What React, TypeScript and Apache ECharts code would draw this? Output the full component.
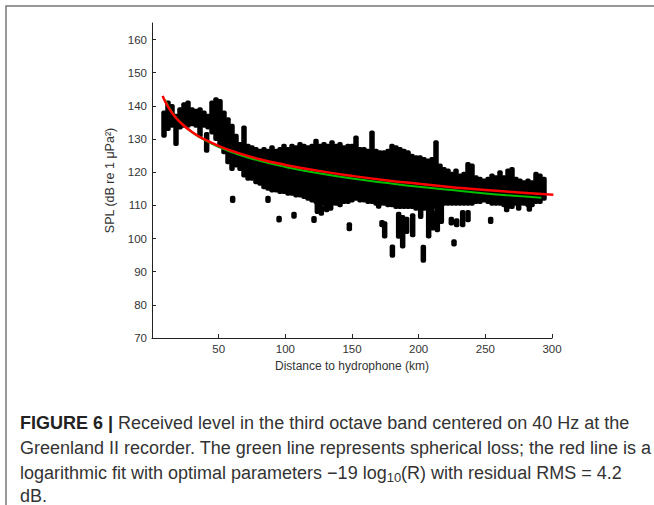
import React, { useEffect, useRef } from 'react';
import * as echarts from 'echarts';

// Dense cloud of measurements, summarised as vertical columns (km, low dB, high dB)
const cloudKm = [9, 12, 15, 18, 21, 24, 27, 30, 33, 36, 39, 42, 45, 48, 51, 54, 57, 60, 63, 66, 69, 72, 75, 78, 81, 84, 87, 90, 93, 96, 99, 102, 105, 108, 111, 114, 117, 120, 123, 126, 129, 132, 135, 138, 141, 144, 147, 150, 153, 156, 159, 162, 165, 168, 171, 174, 177, 180, 183, 186, 189, 192, 195, 198, 201, 204, 207, 210, 213, 216, 219, 222, 225, 228, 231, 234, 237, 240, 243, 246, 249, 252, 255, 258, 261, 264, 267, 270, 273, 276, 279, 282, 285, 288, 291, 294];
const cloudLow = [131, 133, 134, 128.5, 133.5, 134, 134, 134.5, 134, 131, 134, 133.5, 132, 130, 128, 126, 123, 121, 122, 121, 119, 118, 118, 117, 116.5, 115.5, 115, 114.5, 114.5, 114, 114, 113.5, 113.5, 113, 113, 112.5, 112, 111.5, 111, 110.5, 110.5, 110, 110.5, 110.5, 110, 111, 111, 111.5, 112, 111.5, 111.5, 111, 111, 110.5, 110.5, 110.5, 110, 110, 109.5, 109.5, 109.5, 109.5, 109.5, 109, 109, 109, 109, 109, 109.5, 110, 110.5, 110.5, 110.5, 110.5, 110.5, 110.5, 110.5, 110.5, 111, 111, 111.5, 111, 110.5, 110.5, 110.5, 110, 109.5, 109.5, 110.5, 110.5, 110.5, 110, 110, 111, 111, 112];
const cloudHigh = [138, 141, 140, 137, 139, 140.5, 141, 139, 138.5, 139, 138, 137, 141, 142, 141.5, 138, 136, 134, 131, 128.5, 133.5, 128, 127.5, 127, 126.5, 127, 126.5, 127.5, 126.5, 127, 128, 127, 128, 127.5, 128.5, 128, 127.5, 128, 129.5, 128, 128.5, 128, 129, 128, 128.5, 127.5, 128, 128, 130.5, 127, 127, 126.5, 132, 126.5, 126, 126, 126.5, 128, 127.5, 127, 126.5, 126, 125, 124.5, 124.5, 124, 123.5, 124, 129, 122, 121, 120.5, 119.5, 120.5, 119, 119.5, 122.5, 122, 118.5, 118, 117.5, 118, 119, 118.5, 120, 118.5, 120.5, 121, 118, 117.5, 117, 117.5, 117, 119.5, 119, 118];

// Isolated groups of points below / beside the cloud
const outlierKm = [41, 60.5, 87, 95.3, 106.5, 121.5, 124, 127, 131, 134, 148, 170, 172.5, 174.5, 180.3, 185, 188, 191, 195.5, 201.5, 203.5, 207.5, 210.5, 214, 217, 224.5, 226.5, 228.5, 233, 237, 254, 266, 275, 283];
const outlierLow = [126.5, 111.3, 111.3, 105.4, 106.6, 105.3, 108, 107.5, 108.5, 109, 102.8, 109.6, 104, 100.6, 94.8, 100.5, 97.6, 102, 101, 106.5, 93.3, 100.6, 103, 102.5, 105, 104.5, 98.2, 104, 104, 105.5, 105, 108.5, 109, 108.7];
const outlierHigh = [131.5, 112.3, 112.3, 106.3, 107.5, 106.2, 110.5, 109.5, 110, 110.5, 104.3, 111, 105, 104.6, 97.6, 107.5, 106.5, 106, 107, 111, 97.5, 111, 108, 111, 110, 106, 99.2, 105.5, 108, 108, 106, 110.6, 110.5, 110];

// Logarithmic fit (red) and spherical loss (green)
const redKm = [8, 10, 15, 20, 30, 40, 50, 60, 80, 100, 125, 150, 175, 200, 225, 250, 275, 301];
const redDb = [143.0, 141.2, 137.9, 135.5, 132.1, 129.8, 127.9, 126.4, 124.0, 122.2, 120.4, 118.9, 117.6, 116.5, 115.5, 114.6, 113.9, 113.2];
const greenKm = [9.7, 15, 20, 30, 40, 50, 60, 80, 100, 125, 150, 175, 200, 225, 250, 275, 292];
const greenDb = [141.9, 138.1, 135.6, 132.1, 129.6, 127.6, 126.0, 123.5, 121.6, 119.7, 118.1, 116.8, 115.6, 114.6, 113.6, 112.8, 112.3];

const xMin = 0;
const xMax = 300;
const xStep = 50;
const yMin = 70;
const yMax = 165;
const yStep = 10;

const xTitle = 'Distance to hydrophone (km)';
const yTitle = 'SPL (dB re 1 μPa²)';

export default function App() {
  const ref = useRef<HTMLDivElement>(null);

  useEffect(() => {
    document.body.style.margin = '0';
    const chart = echarts.init(ref.current!, null, { renderer: 'svg' });

    const segments = cloudKm
      .map((k, i) => [k, cloudLow[i], cloudHigh[i]])
      .concat(outlierKm.map((k, i) => [k, outlierLow[i], outlierHigh[i]]));

    const axisColor = '#222';
    const labelStyle = { color: '#333', fontSize: 11.5, fontFamily: 'Liberation Sans, Arial, sans-serif' };
    const capFont = 'Liberation Sans, Arial, sans-serif';
    const t = { fontSize: 18, fontFamily: capFont, fill: '#333', lineHeight: 22 };
    const b = { fontSize: 18, fontFamily: capFont, fill: '#222', fontWeight: 'bold', lineHeight: 22 };
    const sub = { fontSize: 13, fontFamily: capFont, fill: '#333', lineHeight: 13, verticalAlign: 'bottom' };

    chart.setOption({
      animation: false,
      backgroundColor: '#fff',
      grid: { left: 152, right: 102, top: 23, bottom: 167, containLabel: false },
      xAxis: {
        type: 'value',
        min: xMin,
        max: xMax,
        interval: xStep,
        name: xTitle,
        nameLocation: 'middle',
        nameGap: 19,
        nameTextStyle: { color: '#333', fontSize: 12, fontFamily: 'Liberation Sans, Arial, sans-serif' },
        axisLine: { onZero: false, lineStyle: { color: axisColor, width: 1 } },
        axisTick: { inside: true, length: 4, lineStyle: { color: axisColor } },
        axisLabel: { ...labelStyle, margin: 5, showMinLabel: false },
        splitLine: { show: false },
      },
      yAxis: {
        type: 'value',
        min: yMin,
        max: yMax,
        interval: yStep,
        name: yTitle,
        nameLocation: 'middle',
        nameGap: 32,
        nameRotate: 90,
        nameTextStyle: { color: '#333', fontSize: 12.5, fontFamily: 'Liberation Sans, Arial, sans-serif' },
        axisLine: { onZero: false, lineStyle: { color: axisColor, width: 1 } },
        axisTick: { inside: true, length: 4, lineStyle: { color: axisColor } },
        axisLabel: { ...labelStyle, margin: 5, showMaxLabel: false },
        splitLine: { show: false },
      },
      series: [
        {
          type: 'custom',
          name: 'SPL',
          data: segments,
          encode: { x: 0, y: [1, 2] },
          renderItem: (_params: any, api: any) => {
            const x = api.value(0);
            const lo = api.value(1);
            const hi = api.value(2);
            const top = api.coord([x, hi]);
            const bot = api.coord([x, lo]);
            const w = 5.5;
            return {
              type: 'rect',
              shape: { x: top[0] - w / 2, y: top[1] - 2, width: w, height: bot[1] - top[1] + 4, r: 2 },
              style: { fill: '#000' },
            };
          },
          z: 1,
        },
        {
          type: 'line',
          name: 'Spherical loss',
          data: greenKm.map((k, i) => [k, greenDb[i]]),
          smooth: true,
          showSymbol: false,
          symbol: 'none',
          lineStyle: { color: '#00c000', width: 2 },
          z: 2,
        },
        {
          type: 'line',
          name: 'Logarithmic fit',
          data: redKm.map((k, i) => [k, redDb[i]]),
          smooth: true,
          showSymbol: false,
          symbol: 'none',
          lineStyle: { color: '#ff0000', width: 2.5 },
          z: 3,
        },
      ],
      graphic: [
        {
          type: 'rect',
          silent: true,
          shape: { x: 6, y: 6, width: 1000, height: 1000 },
          style: { fill: 'none', stroke: '#777', lineWidth: 1.5 },
        },
        {
          type: 'text',
          x: 20,
          y: 423,
          style: {
            text: '{b|FIGURE 6 |}{t| Received level in the third octave band centered on 40 Hz at the}',
            rich: { b, t },
            verticalAlign: 'middle',
          },
        },
        {
          type: 'text',
          x: 20,
          y: 448,
          style: {
            text: '{t|Greenland II recorder. The green line represents spherical loss; the red line is a}',
            rich: { t },
            verticalAlign: 'middle',
          },
        },
        {
          type: 'text',
          x: 20,
          y: 473,
          style: {
            text: '{t|logarithmic fit with optimal parameters −19 log}{sub|10}{t|(R) with residual RMS = 4.2}',
            rich: { t, sub },
            verticalAlign: 'middle',
          },
        },
        {
          type: 'text',
          x: 20,
          y: 496,
          style: {
            text: '{t|dB.}',
            rich: { t },
            verticalAlign: 'middle',
          },
        },
      ],
    });

    return () => chart.dispose();
  }, []);

  return <div ref={ref} style={{ width: 654, height: 505 }} />;
}
